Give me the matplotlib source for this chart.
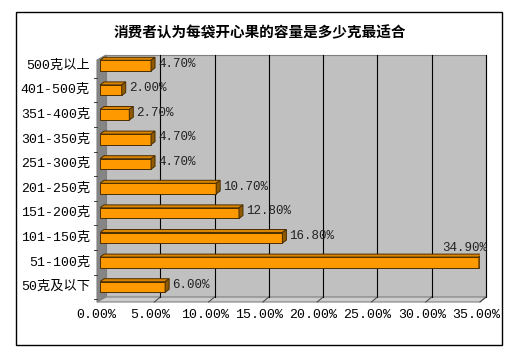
import matplotlib
matplotlib.use("Agg")
import matplotlib.pyplot as plt
from matplotlib.patches import Polygon, Rectangle
import numpy as np

# ---- data ----
categories = ["50克及以下", "51-100克", "101-150克", "151-200克", "201-250克",
              "251-300克", "301-350克", "351-400克", "401-500克", "500克以上"]
values = [6.00, 34.90, 16.80, 12.80, 10.70, 4.70, 4.70, 2.70, 2.00, 4.70]
xticks = [0, 5, 10, 15, 20, 25, 30, 35]
xticklabels = ["0.00%", "5.00%", "10.00%", "15.00%", "20.00%", "25.00%", "30.00%", "35.00%"]
title = "消费者认为每袋开心果的容量是多少克最适合"

FONT = ["Liberation Mono", "Noto Sans CJK SC", "DejaVu Sans"]
plt.rcParams["font.family"] = FONT

W, H = 508, 355
fig = plt.figure(figsize=(W / 100, H / 100), dpi=100)
fig.patch.set_facecolor("white")

# axes geometry in pixels (front plane)
ax_l, ax_r = 100, 480
ax_top, ax_bot = 55, 302
ax = fig.add_axes([ax_l / W, (H - ax_bot) / H, (ax_r - ax_l) / W, (ax_bot - ax_top) / H])
ax.set_xlim(0, 35)
ylo, yhi = -0.61, 9.43
ax.set_ylim(ylo, yhi)
ax.axis("off")

# pixel -> data conversions
px = 35 / (ax_r - ax_l)
py = (yhi - ylo) / (ax_bot - ax_top)

# wall depth
wdx, wdy = 6 * px, 5 * py
xf0 = -3 * px  # front edge of left wall

wall_gray = "#C0C0C0"
side_gray = "#858585"
edge_gray = "#808080"

# back wall
ax.add_patch(Polygon([(xf0 + wdx + 3 * px, ylo + wdy), (35 + wdx, ylo + wdy),
                      (35 + wdx, yhi), (xf0 + wdx + 3 * px, yhi)],
                     closed=True, facecolor=wall_gray, edgecolor=edge_gray,
                     lw=0.8, clip_on=False, zorder=1))
# left wall
ax.add_patch(Polygon([(xf0, ylo), (xf0 + wdx + 3 * px, ylo + wdy),
                      (xf0 + wdx + 3 * px, yhi), (xf0, yhi - wdy)],
                     closed=True, facecolor=side_gray, edgecolor=edge_gray,
                     lw=0.8, clip_on=False, zorder=1))
# floor
ax.add_patch(Polygon([(xf0, ylo), (35, ylo), (35 + wdx, ylo + wdy),
                      (xf0 + wdx + 3 * px, ylo + wdy)],
                     closed=True, facecolor="#CDCDCD", edgecolor=edge_gray,
                     lw=0.8, clip_on=False, zorder=1))
# gridlines on back wall and floor
for t in xticks[1:]:
    ax.plot([t + wdx, t + wdx], [ylo + wdy, yhi], color="black", lw=0.8,
            clip_on=False, zorder=2)
    ax.plot([t, t + wdx], [ylo, ylo + wdy], color="#404040", lw=0.7,
            clip_on=False, zorder=2)

# small category ticks on left wall
for k in range(len(categories) + 1):
    yy = k - 0.5
    if ylo <= yy <= yhi - wdy:
        ax.plot([xf0 - 3 * px, xf0], [yy, yy], color="#404040", lw=0.7,
                clip_on=False, zorder=2)

# bars
ypos = np.arange(len(categories))
bh = 0.43
bdx, bdy = 4 * px, 3 * py
front = "#FF9900"
topc = "#DB8400"
sidec = "#8F5A00"
ec = "#4A2E00"
ax.barh(ypos, values, height=bh, color=front, edgecolor=ec, lw=0.7, zorder=4)
for y, v in zip(ypos, values):
    top = y + bh / 2
    bot = y - bh / 2
    ax.add_patch(Polygon([(0, top), (v, top), (v + bdx, top + bdy), (bdx, top + bdy)],
                         closed=True, facecolor=topc, edgecolor=ec, lw=0.7, zorder=4))
    ax.add_patch(Polygon([(v, bot), (v + bdx, bot + bdy), (v + bdx, top + bdy), (v, top)],
                         closed=True, facecolor=sidec, edgecolor=ec, lw=0.7, zorder=4))
    lab = f"{v:.2f}%"
    if v > 30:
        ax.text(v + 8 * px, y + 0.58, lab, ha="right", va="center", fontsize=9,
                color="#222222", zorder=5, clip_on=False)
    else:
        ax.text(v + 7 * px, y + 0.08, lab, ha="left", va="center", fontsize=9,
                color="#222222", zorder=3, clip_on=False)

# category labels
for y, c in zip(ypos, categories):
    ax.text(-10 * px, y, c, ha="right", va="center", fontsize=9.5, color="black",
            clip_on=False)

# x tick labels
for t, lab in zip(xticks, xticklabels):
    ax.text(t - 4 * px, ylo - 13 * py, lab, ha="center", va="center", fontsize=9.5,
            color="black", clip_on=False)

# title
fig.text(260 / W, 1 - 32 / H, title, ha="center", va="center", fontsize=10.5,
         fontweight="bold", family=["Noto Sans CJK SC", "DejaVu Sans"])

# chart border
fig.patches.append(Rectangle((16 / W, 1 - 345 / H), (502 - 16) / W, (345 - 12) / H,
                             transform=fig.transFigure, fill=False,
                             edgecolor="black", lw=1.0))

fig.savefig("out.png", dpi=100, facecolor="white")
